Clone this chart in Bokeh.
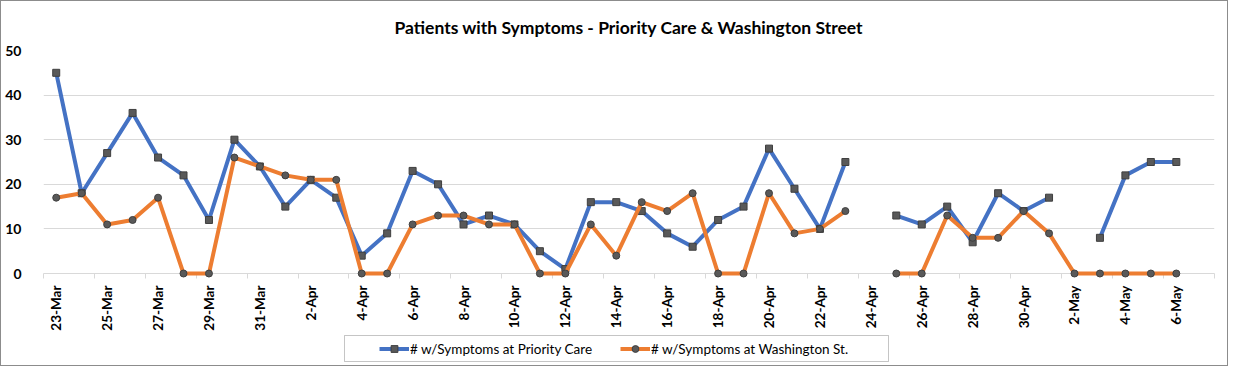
from math import pi
from bokeh.plotting import figure
from bokeh.layouts import column
from bokeh.models import Range1d, FixedTicker, Legend, LegendItem, ColumnDataSource, BoxAnnotation
from bokeh.embed import file_html
from bokeh.resources import INLINE

NaN = float("nan")

dates = ["23-Mar", "24-Mar", "25-Mar", "26-Mar", "27-Mar", "28-Mar", "29-Mar", "30-Mar", "31-Mar",
         "1-Apr", "2-Apr", "3-Apr", "4-Apr", "5-Apr", "6-Apr", "7-Apr", "8-Apr", "9-Apr", "10-Apr",
         "11-Apr", "12-Apr", "13-Apr", "14-Apr", "15-Apr", "16-Apr", "17-Apr", "18-Apr", "19-Apr",
         "20-Apr", "21-Apr", "22-Apr", "23-Apr", "24-Apr", "25-Apr", "26-Apr", "27-Apr", "28-Apr",
         "29-Apr", "30-Apr", "1-May", "2-May", "3-May", "4-May", "5-May", "6-May", "7-May"]

priority_care = [45, 18, 27, 36, 26, 22, 12, 30, 24, 15, 21, 17, 4, 9, 23, 20, 11, 13, 11, 5, 1,
                 16, 16, 14, 9, 6, 12, 15, 28, 19, 10, 25, NaN, 13, 11, 15, 7, 18, 14, 17, NaN,
                 8, 22, 25, 25, NaN]

washington_st = [17, 18, 11, 12, 17, 0, 0, 26, 24, 22, 21, 21, 0, 0, 11, 13, 13, 11, 11, 0, 0,
                 11, 4, 16, 14, 18, 0, 0, 18, 9, 10, 14, NaN, 0, 0, 13, 8, 8, 14, 9, 0,
                 0, 0, 0, 0, NaN]

tick_labels = ["23-Mar", "25-Mar", "27-Mar", "29-Mar", "31-Mar", "2-Apr", "4-Apr", "6-Apr", "8-Apr",
               "10-Apr", "12-Apr", "14-Apr", "16-Apr", "18-Apr", "20-Apr", "22-Apr", "24-Apr",
               "26-Apr", "28-Apr", "30-Apr", "2-May", "4-May", "6-May"]

series_names = ["# w/Symptoms at Priority Care", "# w/Symptoms at Washington St."]
y_ticks = [0, 10, 20, 30, 40, 50]

BLUE = "#4472C4"
ORANGE = "#ED7D31"
MARK_FILL = "#595959"
MARK_LINE = "#3f3f3f"
FONT = "Lato"
W = 1226
BL, BR = 42, 13          # left / right borders shared by both stacked figures
FW = W - BL - BR         # frame width
MH = 332                 # main chart height
LH = 32                  # legend strip height

idx = list(range(len(dates)))
src = ColumnDataSource(dict(x=idx, pc=priority_care, ws=washington_st))

# ---------------- main chart ----------------
p = figure(width=W, height=MH,
           x_range=Range1d(-0.5, len(dates) - 0.5), y_range=Range1d(0, 50),
           output_backend="svg", toolbar_location=None,
           min_border_left=BL, min_border_right=BR, min_border_top=48, min_border_bottom=52,
           background_fill_color="white", border_fill_color="white")
p.outline_line_color = None

p.title.text = "Patients with Symptoms - Priority Care & Washington Street"
p.title.align = "center"
p.title.offset = -14
p.title.standoff = 26
p.title.text_font = FONT
p.title.text_font_style = "bold"
p.title.text_font_size = "17.5px"
p.title.text_color = "#000000"

major = [dates.index(t) for t in tick_labels]
minor = [i - 0.5 for i in range(0, len(dates) + 1, 2)]
p.xaxis.ticker = FixedTicker(ticks=major, minor_ticks=minor)
p.xaxis.major_label_overrides = {i: dates[i] for i in major}
p.xaxis.major_label_orientation = pi / 2
p.xaxis.major_tick_line_color = None
p.xaxis.minor_tick_line_color = "#d9d9d9"
p.xaxis.minor_tick_in = 0
p.xaxis.minor_tick_out = 5
p.xaxis.axis_line_color = "#d9d9d9"
p.xaxis.major_label_text_font = FONT
p.xaxis.major_label_text_font_style = "bold"
p.xaxis.major_label_text_font_size = "13.5px"
p.xaxis.major_label_text_color = "#000000"
p.xaxis.major_label_standoff = 6

p.yaxis.ticker = FixedTicker(ticks=y_ticks)
p.yaxis.axis_line_color = None
p.yaxis.major_tick_line_color = None
p.yaxis.minor_tick_line_color = None
p.yaxis.major_label_text_font = FONT
p.yaxis.major_label_text_font_style = "bold"
p.yaxis.major_label_text_font_size = "14px"
p.yaxis.major_label_text_color = "#000000"
p.yaxis.major_label_standoff = 16

p.xgrid.visible = False
p.ygrid.grid_line_color = "#d9d9d9"
p.ygrid.ticker = FixedTicker(ticks=y_ticks)


def draw(fig, level, **kw):
    l1 = fig.line("x", "pc", source=src, color=BLUE, line_width=4, line_join="round", level=level, **kw)
    s1 = fig.scatter("x", "pc", source=src, marker="square", size=7, fill_color=MARK_FILL,
                     line_color=MARK_LINE, line_width=1, level=level, **kw)
    l2 = fig.line("x", "ws", source=src, color=ORANGE, line_width=4, line_join="round", level=level, **kw)
    s2 = fig.scatter("x", "ws", source=src, marker="circle", size=7, fill_color=MARK_FILL,
                     line_color=MARK_LINE, line_width=1, level=level, **kw)
    return l1, s1, l2, s2


draw(p, "overlay")

# ---------------- legend strip (pixel-unit ranges) ----------------
q = figure(width=W, height=LH,
           x_range=Range1d(0, FW), y_range=Range1d(0, LH),
           x_axis_location=None, y_axis_location=None,
           output_backend="svg", toolbar_location=None,
           min_border_left=BL, min_border_right=BR, min_border_top=0, min_border_bottom=0,
           background_fill_color="white", border_fill_color="white")
q.grid.visible = False
q.outline_line_color = None
q.extra_x_ranges = {"hidden": Range1d(-0.5, len(dates) - 0.5)}
q.extra_y_ranges = {"hidden": Range1d(1000, 1001)}
ql1, qs1, ql2, qs2 = draw(q, "glyph", x_range_name="hidden", y_range_name="hidden")

box = BoxAnnotation(left=343 - BL, right=887 - BL, bottom=4, top=30,
                    fill_alpha=0, line_color="#404040", line_width=1)
q.add_layout(box)

legend = Legend(items=[LegendItem(label=series_names[0], renderers=[ql1, qs1]),
                       LegendItem(label=series_names[1], renderers=[ql2, qs2])],
                orientation="horizontal", location=(378 - BL, 8),
                padding=0, margin=0, spacing=28, label_standoff=1,
                glyph_width=30, glyph_height=17, label_height=17,
                border_line_color=None, background_fill_alpha=0,
                label_text_font=FONT, label_text_font_size="13.5px", label_text_color="#000000")
q.add_layout(legend, "center")

layout = column(p, q, spacing=0)
layout.styles = {"border": "1px solid #8c8c8c", "background-color": "white"}

open("out.html", "w").write(file_html(layout, INLINE))
